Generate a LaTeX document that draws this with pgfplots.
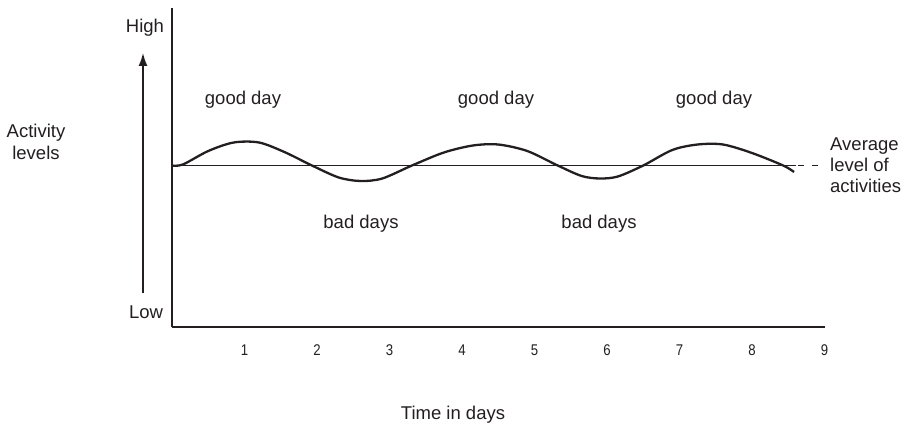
\documentclass[border=0pt]{standalone}
\usepackage{fontspec}
\setmainfont{Liberation Sans}
\newfontfamily\ticknarrow[FakeStretch=0.85]{Liberation Sans}
\usepackage{pgfplots}
\pgfplotsset{compat=1.18}
\usetikzlibrary{arrows.meta}

\definecolor{ink}{HTML}{231F20}

\begin{document}
\begin{tikzpicture}[x=1pt,y=1pt]
\useasboundingbox (0,0) rectangle (907,426);

\begin{axis}[
    at={(172pt,99pt)}, anchor=south west,
    scale only axis,
    width=652.5pt, height=319pt,
    xmin=0, xmax=9,
    ymin=0, ymax=319,
    axis x line=bottom, axis y line=left,
    axis line style={-, line width=1.9pt, ink},
    xtick={1,2,3,4,5,6,7,8,9},
    ytick=\empty,
    major tick length=0pt,
    /pgf/number format/assume math mode=true,
    xticklabel style={anchor=base, yshift=-28pt, font=\ticknarrow\fontsize{15.5}{17}\selectfont, text=ink},
    clip=false,
]
% average level of activities
\addplot[ink, line width=1.9pt] coordinates {(0,161.5)(8.6,161.5)};
\addplot[ink, line width=1.9pt, dash pattern=on 6pt off 8pt] coordinates {(8.63,161.5)(8.97,161.5)};
% activity curve
\addplot[ink, line width=2.3pt, smooth] coordinates {
    (0,161.5)(0.15,162.5)(0.5,176)(0.85,184.5)(1.2,184.5)(1.55,175)(1.93,161.5)
    (2.3,149.5)(2.6,146)(2.9,148.5)(3.31,161.5)(3.75,174.5)(4.15,181.5)(4.5,182.5)
    (4.9,176)(5.32,161.5)(5.65,151)(5.9,148.5)(6.15,150.5)(6.5,161.5)(6.9,177)
    (7.25,182.5)(7.6,182.5)(8.0,174)(8.43,161.5)(8.58,155)
};
\end{axis}

% vertical arrow
\draw[ink, line width=1.5pt, -{Latex[length=13pt,width=9pt]}] (143,133) -- (143,373);

\begin{scope}[every node/.style={font=\fontsize{18.5}{21}\selectfont, text=ink, inner sep=0pt}]
\node[anchor=base] at (145,393) {High};
\node[anchor=base] at (146,108) {Low};
\node[anchor=base] at (36,288) {Activity};
\node[anchor=base] at (36,266) {levels};
\node[anchor=base] at (243,321) {good day};
\node[anchor=base] at (496,321) {good day};
\node[anchor=base] at (714,321) {good day};
\node[anchor=base] at (361,197) {bad days};
\node[anchor=base] at (599,197) {bad days};
\node[anchor=base west] at (830,275) {Average};
\node[anchor=base west] at (830,254) {level of};
\node[anchor=base west] at (830,233) {activities};
\node[anchor=base] at (453,7) {Time in days};
\end{scope}
\end{tikzpicture}
\end{document}
